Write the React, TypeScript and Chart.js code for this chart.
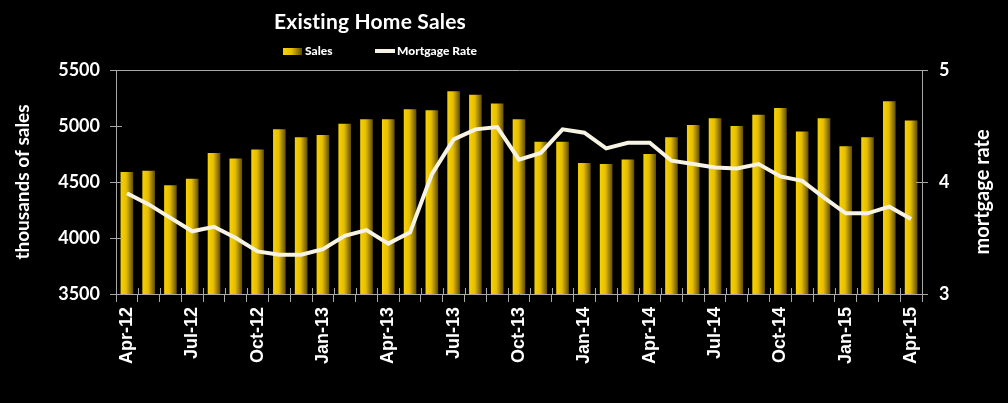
import React, { useEffect, useRef } from "react";
import { Chart, registerables } from "chart.js";

Chart.register(...registerables);

const months = [
  "Apr-12", "May-12", "Jun-12", "Jul-12", "Aug-12", "Sep-12", "Oct-12", "Nov-12", "Dec-12",
  "Jan-13", "Feb-13", "Mar-13", "Apr-13", "May-13", "Jun-13", "Jul-13", "Aug-13", "Sep-13",
  "Oct-13", "Nov-13", "Dec-13", "Jan-14", "Feb-14", "Mar-14", "Apr-14", "May-14", "Jun-14",
  "Jul-14", "Aug-14", "Sep-14", "Oct-14", "Nov-14", "Dec-14", "Jan-15", "Feb-15", "Mar-15",
  "Apr-15",
];

const sales = [
  4590, 4600, 4470, 4530, 4760, 4710, 4790, 4970, 4900, 4920,
  5020, 5060, 5060, 5150, 5140, 5310, 5280, 5200, 5060, 4860,
  4860, 4670, 4660, 4700, 4750, 4900, 5010, 5070, 5000, 5100,
  5160, 4950, 5070, 4820, 4900, 5220, 5050,
];

const mortgageRate = [
  3.9, 3.8, 3.68, 3.56, 3.6, 3.5, 3.38, 3.35, 3.35, 3.4,
  3.52, 3.57, 3.45, 3.55, 4.07, 4.38, 4.47, 4.49, 4.2, 4.26,
  4.47, 4.44, 4.3, 4.35, 4.35, 4.19, 4.16, 4.13, 4.12, 4.16,
  4.05, 4.01, 3.86, 3.72, 3.72, 3.78, 3.67,
];

const salesAxis = { min: 3500, max: 5500, step: 500 };
const rateAxis = { min: 3, max: 5, step: 1 };

const titleText = "Existing Home Sales";
const salesLabel = "Sales";
const rateLabel = "Mortgage Rate";
const leftTitle = "thousands of sales";
const rightTitle = "mortgage rate";

const AXIS = "#a8a8a8";
const WHITE = "#ffffff";
const LINE = "#f6f2e4";
const BAR_PCT = 0.58;

function barGradient(ctx: CanvasRenderingContext2D, x0: number, x1: number) {
  const g = ctx.createLinearGradient(x0, 0, x1, 0);
  g.addColorStop(0, "#f7d200");
  g.addColorStop(0.45, "#e6be00");
  g.addColorStop(1, "#5e4c00");
  return g;
}

const decor = {
  id: "decor",
  afterDraw(chart: any) {
    const { ctx, chartArea: a, scales } = chart;
    const x = scales.x, y = scales.y, y2 = scales.y2;
    ctx.save();
    // inner halves of the crossing tick marks
    ctx.strokeStyle = AXIS;
    ctx.lineWidth = 1;
    ctx.beginPath();
    y.ticks.forEach((t: any) => {
      const p = Math.round(y.getPixelForValue(t.value)) + 0.5;
      ctx.moveTo(a.left, p);
      ctx.lineTo(a.left + 6, p);
    });
    y2.ticks.forEach((t: any) => {
      const p = Math.round(y2.getPixelForValue(t.value)) + 0.5;
      ctx.moveTo(a.right - 6, p);
      ctx.lineTo(a.right, p);
    });
    for (let i = 0; i <= months.length; i++) {
      const p = Math.round(x.getPixelForValue(i - 0.5)) + 0.5;
      ctx.moveTo(p, a.bottom - 6);
      ctx.lineTo(p, a.bottom);
    }
    ctx.stroke();

    // chart title
    ctx.fillStyle = WHITE;
    ctx.textBaseline = "middle";
    ctx.textAlign = "center";
    ctx.font = "bold 21px Lato";
    (ctx as any).letterSpacing = "0.2px";
    ctx.fillText(titleText, 370, 22);
    (ctx as any).letterSpacing = "0px";

    // legend
    ctx.font = "900 12px Lato";
    ctx.textAlign = "left";
    ctx.fillStyle = barGradient(ctx, 283, 302);
    ctx.fillRect(283, 48, 19, 7);
    ctx.fillStyle = WHITE;
    ctx.fillText(salesLabel, 305, 51.5);
    ctx.strokeStyle = LINE;
    ctx.lineWidth = 4;
    ctx.beginPath();
    ctx.moveTo(375, 51);
    ctx.lineTo(395, 51);
    ctx.stroke();
    ctx.fillText(rateLabel, 397, 51.5);

    // right axis title (reads bottom to top)
    ctx.font = "bold 20px Lato";
    ctx.textAlign = "center";
    ctx.translate(983, 192);
    ctx.rotate(-Math.PI / 2);
    ctx.fillText(rightTitle, 0, 0);
    ctx.restore();
  },
};

export default function App() {
  const ref = useRef<HTMLCanvasElement>(null);

  useEffect(() => {
    document.body.style.margin = "0";
    document.body.style.background = "#000";
    const canvas = ref.current!;
    const chart = new Chart(canvas, {
      type: "bar",
      data: {
        labels: months,
        datasets: [
          {
            type: "line",
            label: rateLabel,
            data: mortgageRate,
            yAxisID: "y2",
            borderColor: LINE,
            backgroundColor: LINE,
            borderWidth: 4,
            pointRadius: 0,
            tension: 0,
            order: 0,
          } as any,
          {
            type: "bar",
            label: salesLabel,
            data: sales,
            yAxisID: "y",
            barPercentage: BAR_PCT,
            categoryPercentage: 1,
            order: 1,
            backgroundColor: (c: any) => {
              const xs = c.chart.scales?.x;
              if (!xs || c.type !== "data" || !xs.width) return "#e0b800";
              const cx = xs.getPixelForValue(c.dataIndex);
              const w = (xs.width / months.length) * BAR_PCT;
              return barGradient(c.chart.ctx, cx - w / 2, cx + w / 2);
            },
          },
        ],
      },
      options: {
        animation: false,
        responsive: false,
        devicePixelRatio: 1,
        layout: { padding: { top: 70, left: 0, right: 0, bottom: 0 } },
        plugins: {
          legend: { display: false },
          title: { display: false },
          tooltip: { enabled: false },
        },
        scales: {
          x: {
            offset: true,
            grid: {
              offset: true,
              drawOnChartArea: false,
              color: AXIS,
              tickLength: 8,
            },
            border: { color: AXIS, width: 1 },
            ticks: {
              autoSkip: false,
              minRotation: 90,
              maxRotation: 90,
              padding: 5,
              color: WHITE,
              font: { family: "'Liberation Sans', Arial, sans-serif", weight: "bold", size: 18 },
              callback: (_v: any, i: number) => (i % 3 === 0 ? months[i] : ""),
            },
            afterFit: (s: any) => {
              s.height = 109;
            },
          },
          y: {
            position: "left",
            min: salesAxis.min,
            max: salesAxis.max,
            grid: {
              drawOnChartArea: true,
              color: (c: any) => (c.tick && c.tick.value === salesAxis.max ? AXIS : "rgba(0,0,0,0)"),
              tickColor: AXIS,
              tickLength: 6,
            },
            border: { color: AXIS, width: 1 },
            ticks: {
              stepSize: salesAxis.step,
              padding: 10,
              color: WHITE,
              font: { family: "Lato", weight: "bold", size: 18 },
              callback: (v: any) => String(v),
            },
            title: {
              display: true,
              text: leftTitle,
              color: WHITE,
              font: { family: "Lato", weight: "bold", size: 19 },
              padding: { top: 11, bottom: 0 },
            },
            afterFit: (s: any) => {
              s.width = 116;
            },
          },
          y2: {
            position: "right",
            min: rateAxis.min,
            max: rateAxis.max,
            grid: {
              drawOnChartArea: false,
              color: AXIS,
              tickLength: 6,
            },
            border: { color: AXIS, width: 1 },
            ticks: {
              stepSize: rateAxis.step,
              padding: 11,
              color: WHITE,
              font: { family: "Lato", weight: "bold", size: 18 },
              callback: (v: any) => String(v),
            },
            afterFit: (s: any) => {
              s.width = 86;
            },
          },
        },
      },
      plugins: [decor],
    } as any);
    return () => chart.destroy();
  }, []);

  return (
    <div style={{ width: 1008, height: 403, background: "#000" }}>
      <canvas ref={ref} width={1008} height={403} style={{ display: "block" }} />
    </div>
  );
}
